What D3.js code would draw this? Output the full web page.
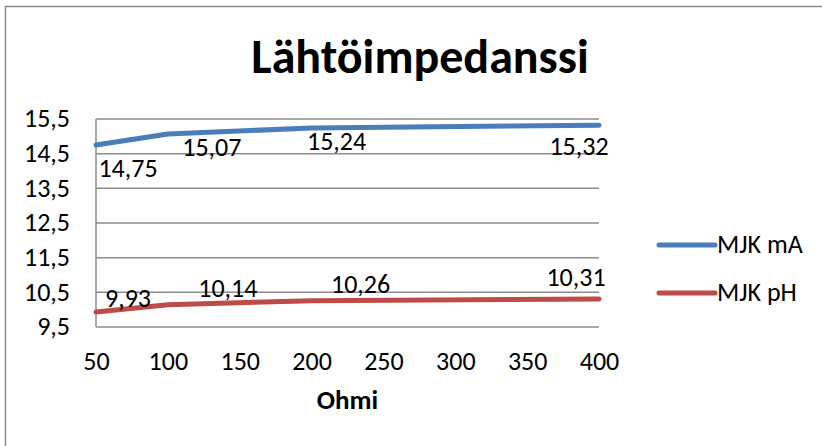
<!DOCTYPE html>
<html>
<head>
<meta charset="utf-8">
<script src="https://cdn.jsdelivr.net/npm/d3@7"></script>
<style>
  body { margin: 0; background: #fff; }
  text { font-family: Carlito, Lato, "Open Sans", sans-serif; fill: #000; }
</style>
</head>
<body>
<script>
// values
var ohms = [50, 100, 200, 400];
var mjkMA = [14.75, 15.07, 15.24, 15.32];
var mjkPH = [9.93, 10.14, 10.26, 10.31];
var seriesNames = ["MJK mA", "MJK pH"];
var xTicks = [50, 100, 150, 200, 250, 300, 350, 400];
var yTicks = [9.5, 10.5, 11.5, 12.5, 13.5, 14.5, 15.5];

// hand placed label offsets (Excel labels were dragged around)
var offsMA = [[32, 32], [44, 22], [25, 22], [-20, 30]];
var offsPH = [[32, -5], [60, -8], [49, -8], [-23, -13]];

var W = 822, H = 446;
var margin = {top: 119, right: 223, bottom: 119, left: 96},
    width = W - margin.left - margin.right,
    height = H - margin.top - margin.bottom;

var colors = ["#4a7ebb", "#be4b48"];
var fs = "26px";
var fmt = function(v) { return String(v).replace(".", ","); };

var svg = d3.select("body").append("svg")
    .attr("width", W)
    .attr("height", H);

// chart border
svg.append("rect")
    .attr("x", 5.5).attr("y", 6.5)
    .attr("width", 900).attr("height", 600)
    .attr("fill", "none")
    .attr("stroke", "#8a8a8a")
    .attr("stroke-width", 1.5);

svg.append("text")
    .attr("x", 420).attr("y", 73)
    .attr("text-anchor", "middle")
    .style("font-size", "48px")
    .style("font-weight", "bold")
    .text("Lähtöimpedanssi");

var g = svg.append("g")
    .attr("transform", "translate(" + margin.left + "," + margin.top + ")");

var x = d3.scaleLinear().domain([50, 400]).range([0, width]);
var y = d3.scaleLinear().domain([9.5, 15.5]).range([height, 0]);

// gridlines
g.append("g").selectAll("line")
    .data(yTicks)
  .enter().append("line")
    .attr("x1", 0).attr("x2", width)
    .attr("y1", function(d) { return y(d); })
    .attr("y2", function(d) { return y(d); })
    .attr("stroke", "#8c8c8c")
    .attr("stroke-width", 1.5);

g.append("line")
    .attr("x1", 0).attr("x2", 0)
    .attr("y1", 0).attr("y2", height)
    .attr("stroke", "#8c8c8c")
    .attr("stroke-width", 1.5);

// y axis labels
var yAxis = d3.axisLeft(y).tickValues(yTicks).tickSize(0).tickPadding(26).tickFormat(fmt);
g.append("g").call(yAxis)
  .call(function(s) { s.select(".domain").remove(); })
  .selectAll("text")
    .style("font-size", fs)
    .attr("dy", "0.3em");

// x axis labels
var xAxis = d3.axisBottom(x).tickValues(xTicks).tickSize(0).tickPadding(25).tickFormat(d3.format("d"));
g.append("g")
    .attr("transform", "translate(0," + height + ")")
    .call(xAxis)
  .call(function(s) { s.select(".domain").remove(); })
  .selectAll("text")
    .style("font-size", fs);

g.append("text")
    .attr("x", width / 2).attr("y", height + 82)
    .attr("text-anchor", "middle")
    .style("font-size", "27px")
    .style("font-weight", "bold")
    .text("Ohmi");

var line = d3.line()
    .x(function(d) { return x(d[0]); })
    .y(function(d) { return y(d[1]); });

var series = [mjkMA, mjkPH];
var offsets = [offsMA, offsPH];

series.forEach(function(vals, i) {
  var pts = ohms.map(function(o, j) { return [o, vals[j]]; });
  g.append("path")
      .datum(pts)
      .attr("d", line)
      .attr("fill", "none")
      .attr("stroke", colors[i])
      .attr("stroke-width", 5)
      .attr("stroke-linecap", "round")
      .attr("stroke-linejoin", "round");

  g.append("g").selectAll("text")
      .data(pts)
    .enter().append("text")
      .attr("x", function(d, j) { return x(d[0]) + offsets[i][j][0]; })
      .attr("y", function(d, j) { return y(d[1]) + offsets[i][j][1]; })
      .attr("text-anchor", "middle")
      .style("font-size", fs)
      .text(function(d) { return fmt(d[1]); });
});

// legend
var legend = svg.append("g")
    .attr("transform", "translate(659,245)");
var li = legend.selectAll("g")
    .data(seriesNames)
  .enter().append("g")
    .attr("transform", function(d, i) { return "translate(0," + i * 48 + ")"; });
li.append("line")
    .attr("x1", 0).attr("x2", 56)
    .attr("stroke", function(d, i) { return colors[i]; })
    .attr("stroke-width", 5)
    .attr("stroke-linecap", "round");
li.append("text")
    .attr("x", 58).attr("y", 8)
    .style("font-size", fs)
    .text(function(d) { return d; });
</script>
</body>
</html>
